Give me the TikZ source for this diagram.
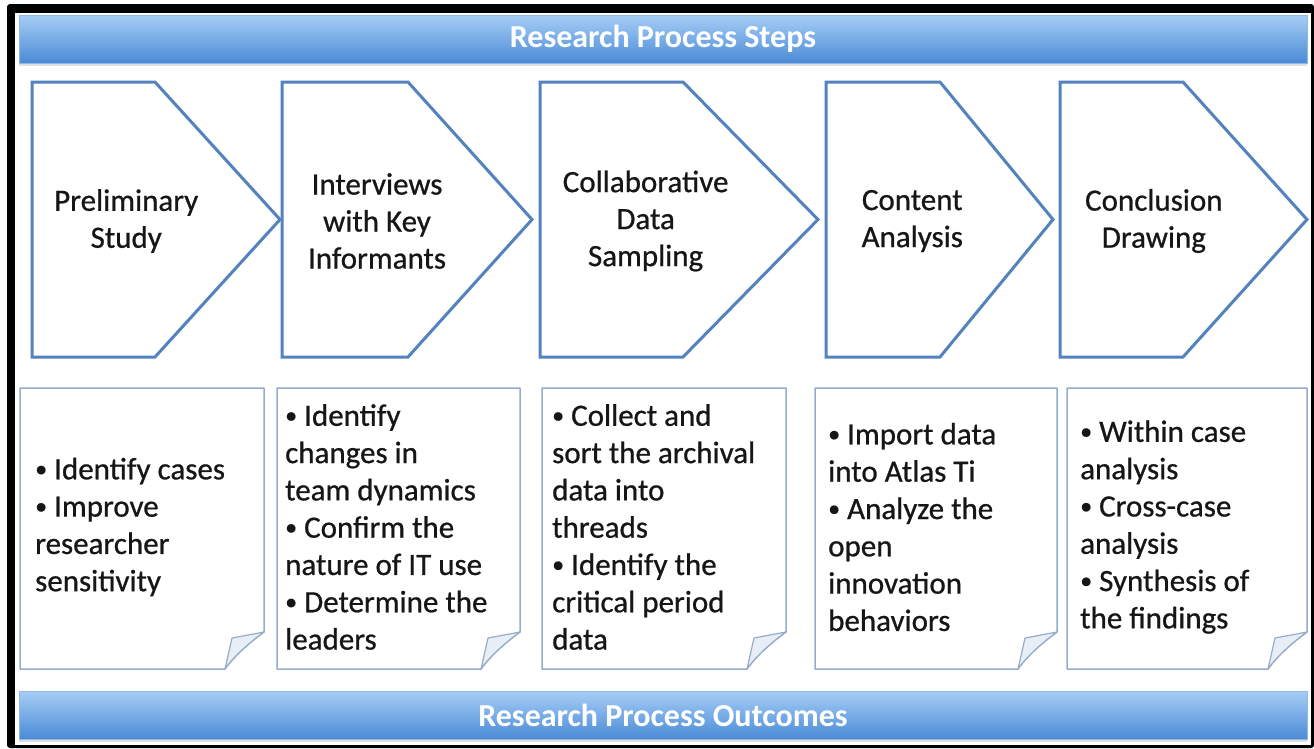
\documentclass[tikz,border=0pt]{standalone}
\usepackage{fontspec}
\setmainfont{Carlito}
\newfontfamily\bodyfont{Carlito}[FakeBold=0.7]
\usetikzlibrary{shadows}

\definecolor{chevblue}{RGB}{84,130,190}
\definecolor{notegray}{RGB}{150,172,200}
\definecolor{foldfill}{RGB}{232,238,246}
\definecolor{bartop}{RGB}{166,206,246}
\definecolor{barbot}{RGB}{74,138,214}
\definecolor{inktext}{RGB}{22,22,22}

% small raised bullet for the outcome lists
\newcommand\itembul{\raisebox{2.5pt}{\fontsize{24}{24}\selectfont •}}

\tikzset{
  chevron/.style={draw=chevblue, line width=3pt, fill=white, line join=miter},
  steptext/.style={align=center, font=\bodyfont\fontsize{31}{37}\selectfont, text=inktext, inner sep=0pt},
  notebox/.style={draw=notegray, line width=1.5pt, fill=white, line join=round},
  notetext/.style={align=left, anchor=west, font=\bodyfont\fontsize{31}{37.3}\selectfont, text=inktext, inner sep=0pt},
  bar/.style={top color=bartop, bottom color=barbot, draw=barbot!60!white, line width=0.6pt,
    minimum width=1288pt, minimum height=48pt, inner sep=0pt, text=white,
    font=\bfseries\fontsize{32}{36}\selectfont,
    drop shadow={shadow xshift=0pt, shadow yshift=-3pt, opacity=0.25}},
}

% arrow-shaped step: left edge, start of slant, tip, node name, label
\newcommand\stepchev[5]{%
  \draw[chevron] (#1,82) -- (#2,82) -- (#3,219.5) -- (#2,357) -- (#1,357) -- cycle;
  \node[steptext] (#4) at ({#1+0.38*(#3-#1)},221) {#5};
}

% note card with a curled lower right corner: left, right, node name, text inset, text
\newcommand\notecard[5]{%
  \draw[notebox] (#1,388) -- (#2,388) -- (#2,632)
    .. controls ({#2-14},642) and ({#2-30},656) .. ({#2-39},669) -- (#1,669) -- cycle;
  \draw[notebox, line width=1.2pt, fill=foldfill] ({#2-39},669) -- ({#2-32},638) -- (#2,632)
    .. controls ({#2-14},642) and ({#2-30},656) .. ({#2-39},669) -- cycle;
  \node[notetext] (#3) at ({#1+#4},527) {#5};
}

\begin{document}
\begin{tikzpicture}[x=1pt,y=-1pt]
\useasboundingbox (0,0) rectangle (1314,748);

% black frame around the white sheet
\fill[black, rounded corners=3pt] (7,4) rectangle (1314,748);
\fill[white] (15,13) rectangle (1311,745);

% header and footer bars
\node[bar] (steps) at (663,39) {Research Process Steps};
\node[bar] (outcomes) at (663,715) {Research Process Outcomes};

% process steps
\stepchev{32}{155}{280}{prelim}{Preliminary\\Study}
\stepchev{282}{408}{532}{interviews}{Interviews\\with Key\\Informants}
\stepchev{540}{683}{818}{sampling}{Collaborative\\Data\\Sampling}
\stepchev{826}{940}{1053}{content}{Content\\Analysis}
\stepchev{1060}{1183}{1307}{conclusion}{Conclusion\\Drawing}

% outcomes of each step
\notecard{20}{264}{outA}{15}{\itembul{} Identify cases\\\itembul{} Improve\\researcher\\sensitivity}
\notecard{277}{520}{outB}{8}{\itembul{} Identify\\changes in\\team dynamics\\\itembul{} Confirm the\\nature of IT use\\\itembul{} Determine the\\leaders}
\notecard{542}{786}{outC}{10}{\itembul{} Collect and\\sort the archival\\data into\\threads\\\itembul{} Identify the\\critical period\\data}
\notecard{815}{1057}{outD}{13}{\itembul{} Import data\\into Atlas Ti\\\itembul{} Analyze the\\open\\innovation\\behaviors}
\notecard{1067}{1307}{outE}{13}{\itembul{} Within case\\analysis\\\itembul{} Cross-case\\analysis\\\itembul{} Synthesis of\\the findings}
\end{tikzpicture}
\end{document}
